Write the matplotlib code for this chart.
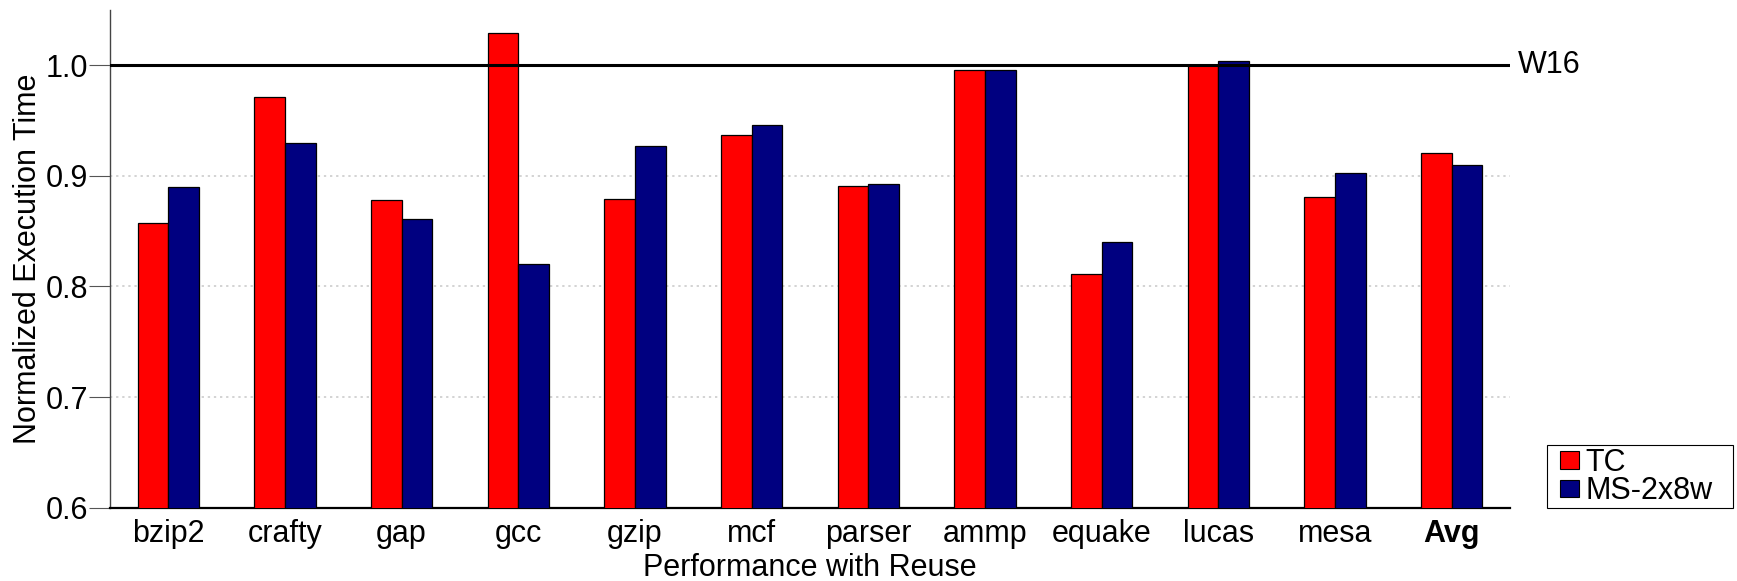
import matplotlib
matplotlib.use("Agg")
import matplotlib.pyplot as plt
import numpy as np
from matplotlib.patches import Patch, Rectangle

categories = ["bzip2", "crafty", "gap", "gcc", "gzip", "mcf", "parser",
              "ammp", "equake", "lucas", "mesa", "Avg"]
tc = [0.857, 0.971, 0.878, 1.029, 0.879, 0.937, 0.891, 0.996, 0.811, 1.000, 0.881, 0.921]
ms = [0.890, 0.930, 0.861, 0.820, 0.927, 0.946, 0.893, 0.996, 0.840, 1.004, 0.903, 0.910]
series_names = ["TC", "MS-2x8w"]
yticks = [0.6, 0.7, 0.8, 0.9, 1.0]
baseline_label = "W16"

plt.rcParams['font.family'] = ['Liberation Sans', 'DejaVu Sans']
FS = 22
W, H = 1737, 581

fig = plt.figure(figsize=(17.37, 5.81), dpi=100)
ax = fig.add_axes([0.0633, 0.1262, 0.806, 0.8566])

x = np.arange(len(categories))
w = 0.263
ax.bar(x - w / 2, tc, w, bottom=0, color="#ff0000", edgecolor="black", linewidth=0.9, zorder=3)
ax.bar(x + w / 2, ms, w, bottom=0, color="#000080", edgecolor="black", linewidth=0.9, zorder=3)

ax.set_xlim(-0.5, len(categories) - 0.5)
ax.set_ylim(0.6, 1.05)
ax.set_yticks(yticks)
ax.set_yticklabels([f"{v:.1f}" for v in yticks], fontsize=FS)
ax.set_xticks(x)
ax.set_xticklabels(categories, fontsize=FS)
for lbl in ax.get_xticklabels():
    if lbl.get_text() == "Avg":
        lbl.set_fontweight("bold")

ax.tick_params(axis="x", length=0, pad=8)
ax.tick_params(axis="y", direction="out", length=15, width=0.8, color="#555555", pad=0.5)

for yv in [0.7, 0.8, 0.9]:
    ax.axhline(yv, color="#c8c8c8", linestyle=(0, (1.5, 2.5)), linewidth=1.1, zorder=1)
ax.axhline(1.0, color="black", linewidth=2.2, zorder=4)
ax.annotate(baseline_label, xy=(1.0, 1.0), xycoords=("axes fraction", "data"),
            xytext=(6, 0), textcoords="offset points", va="center", ha="left",
            fontsize=FS, annotation_clip=False)

for s in ["top", "right"]:
    ax.spines[s].set_visible(False)
ax.spines["left"].set_color("#444444")
ax.spines["left"].set_linewidth(1.0)
ax.spines["bottom"].set_color("black")
ax.spines["bottom"].set_linewidth(1.6)

ax.set_ylabel("Normalized Execution Time", fontsize=FS, labelpad=2)
ax.set_xlabel("Performance with Reuse", fontsize=FS, labelpad=3)

handles = [Patch(facecolor="#ff0000", edgecolor="black", linewidth=0.8),
           Patch(facecolor="#000080", edgecolor="black", linewidth=0.8)]
leg = fig.legend(handles, series_names, loc="center left",
                 bbox_to_anchor=(1560 / W, 1 - 477 / H), fontsize=FS,
                 frameon=False, handlelength=0.62, handleheight=0.5,
                 handletextpad=0.22, borderpad=0.0, labelspacing=-0.05, borderaxespad=0)
fig.patches.append(Rectangle((1547 / W, 1 - 508 / H), 186 / W, 63 / H,
                             transform=fig.transFigure, fill=False,
                             edgecolor="black", linewidth=0.8))

fig.savefig("out.png", dpi=100)
